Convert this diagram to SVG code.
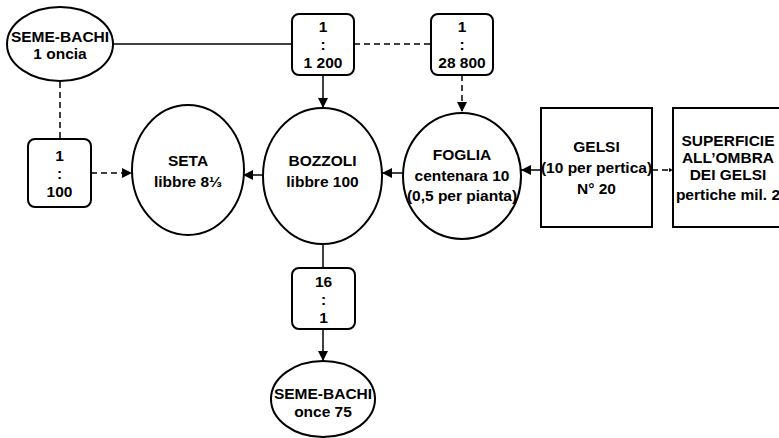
<svg xmlns="http://www.w3.org/2000/svg" width="779" height="438" viewBox="0 0 779 438">
<style>
.s{fill:#fff;stroke:#000;stroke-width:2}
.t{font-family:"Liberation Sans",Arial,sans-serif;font-weight:bold;font-size:15.5px;text-anchor:middle;fill:#000}
.c{fill:none;stroke:#000;stroke-width:1.5}
.d{stroke-dasharray:6,4}
</style>
<defs>
<marker id="ah" viewBox="0 0 10 10" refX="10" refY="5" markerWidth="10" markerHeight="10" markerUnits="userSpaceOnUse" orient="auto">
<path d="M0,0 L10,5 L0,10 z" fill="#000"/>
</marker>
<marker id="ahs" viewBox="0 0 10 10" refX="10" refY="5" markerWidth="4" markerHeight="10" markerUnits="userSpaceOnUse" orient="auto">
<path d="M0,0 L10,5 L0,10 z" fill="#000"/>
</marker>
</defs>
<rect width="779" height="438" fill="#fff"/>
<g id="connectors">
<line class="c" x1="112" y1="44" x2="292" y2="44"/>
<line class="c d" x1="354" y1="44" x2="431" y2="44"/>
<line class="c" x1="323" y1="75" x2="323" y2="108" marker-end="url(#ah)"/>
<line class="c d" x1="462" y1="75" x2="462" y2="112" marker-end="url(#ah)"/>
<line class="c d" x1="60" y1="82" x2="60" y2="139"/>
<line class="c d" x1="91" y1="173" x2="132" y2="173" marker-end="url(#ah)"/>
<line class="c" x1="263" y1="175" x2="243" y2="175" marker-end="url(#ah)"/>
<line class="c" x1="403" y1="173" x2="382" y2="173" marker-end="url(#ah)"/>
<line class="c" x1="541" y1="170" x2="521" y2="170" marker-end="url(#ah)"/>
<line class="c d" x1="652" y1="170" x2="673" y2="170" marker-end="url(#ahs)"/>
<line class="c" x1="323" y1="245" x2="323" y2="268"/>
<line class="c" x1="323" y1="329" x2="323" y2="361" marker-end="url(#ah)"/>
</g>
<g id="seme-bachi-1">
<ellipse class="s" cx="60" cy="44" rx="53" ry="37"/>
<text class="t" x="60" y="42">SEME-BACHI</text>
<text class="t" x="60" y="59">1 oncia</text>
</g>
<g id="ratio-1200">
<rect class="s" x="292" y="14" width="62" height="61" rx="7"/>
<text class="t" x="323" y="32">1</text>
<text class="t" x="323" y="50">:</text>
<text class="t" x="323" y="68">1 200</text>
</g>
<g id="ratio-28800">
<rect class="s" x="431" y="14" width="62" height="61" rx="7"/>
<text class="t" x="462" y="32">1</text>
<text class="t" x="462" y="50">:</text>
<text class="t" x="462" y="68">28 800</text>
</g>
<g id="ratio-100">
<rect class="s" x="28" y="139" width="63" height="68" rx="7"/>
<text class="t" x="59.5" y="161">1</text>
<text class="t" x="59.5" y="179">:</text>
<text class="t" x="59.5" y="197">100</text>
</g>
<g id="seta">
<ellipse class="s" cx="188" cy="170" rx="56" ry="65"/>
<text class="t" x="188" y="166">SETA</text>
<text class="t" x="188" y="187">libbre 8⅓</text>
</g>
<g id="bozzoli">
<ellipse class="s" cx="322.5" cy="176" rx="59.5" ry="68"/>
<text class="t" x="322.5" y="166">BOZZOLI</text>
<text class="t" x="322.5" y="187">libbre 100</text>
</g>
<g id="foglia">
<ellipse class="s" cx="462" cy="176" rx="59" ry="63"/>
<text class="t" x="462" y="160">FOGLIA</text>
<text class="t" x="462" y="181">centenara 10</text>
<text class="t" x="462" y="201">(0,5 per pianta)</text>
</g>
<g id="gelsi">
<rect class="s" x="541" y="108" width="111" height="119"/>
<text class="t" x="596.5" y="152">GELSI</text>
<text class="t" x="596.5" y="173">(10 per pertica)</text>
<text class="t" x="596.5" y="194">N° 20</text>
</g>
<g id="superficie">
<rect class="s" x="673" y="108" width="112" height="119"/>
<text class="t" x="728" y="146">SUPERFICIE</text>
<text class="t" x="728" y="163">ALL’OMBRA</text>
<text class="t" x="728" y="180">DEI GELSI</text>
<text class="t" x="728" y="200">pertiche mil. 2</text>
</g>
<g id="ratio-16">
<rect class="s" x="292" y="268" width="63" height="61" rx="7"/>
<text class="t" x="323.5" y="287">16</text>
<text class="t" x="323.5" y="305">:</text>
<text class="t" x="323.5" y="323">1</text>
</g>
<g id="seme-bachi-75">
<ellipse class="s" cx="323" cy="399" rx="52" ry="38"/>
<text class="t" x="323" y="399">SEME-BACHI</text>
<text class="t" x="323" y="417">once 75</text>
</g>
</svg>
